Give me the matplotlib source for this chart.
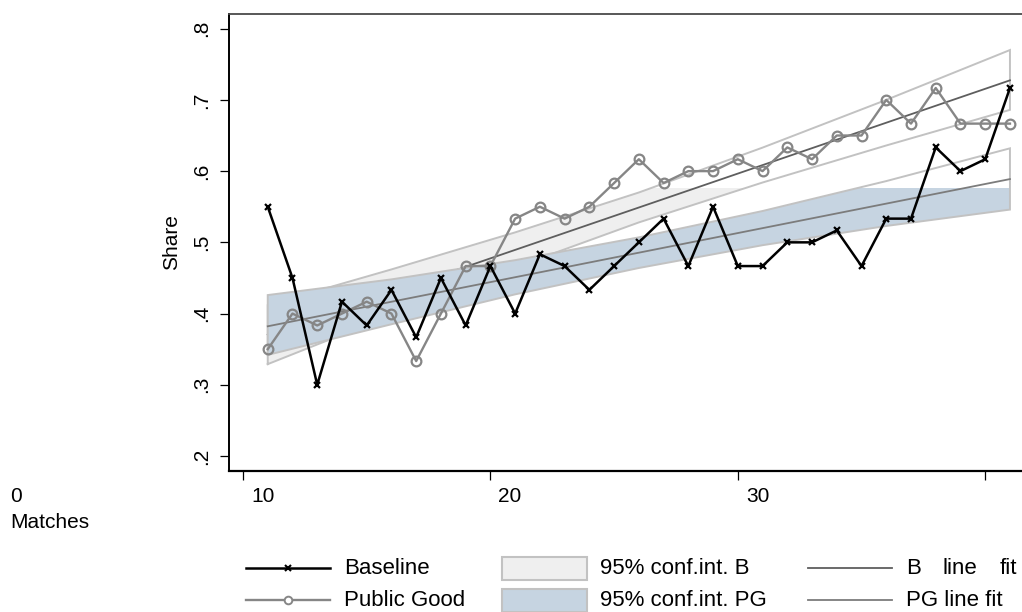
import numpy as np
import matplotlib
matplotlib.use("Agg")
import matplotlib.pyplot as plt
from matplotlib.patches import Rectangle
from matplotlib.lines import Line2D
from matplotlib.transforms import ScaledTranslation

plt.rcParams['font.family'] = ['Liberation Sans', 'DejaVu Sans']

# ---------------- data ----------------
matches = np.arange(11, 42)
baseline = [0.5500, 0.4500, 0.3000, 0.4167, 0.3833, 0.4333, 0.3667, 0.4500, 0.3833, 0.4667,
            0.4000, 0.4833, 0.4667, 0.4333, 0.4667, 0.5000, 0.5333, 0.4667, 0.5500, 0.4667,
            0.4667, 0.5000, 0.5000, 0.5167, 0.4667, 0.5333, 0.5333, 0.6333, 0.6000, 0.6167,
            0.7167]
public_good = [0.3500, 0.4000, 0.3833, 0.4000, 0.4167, 0.4000, 0.3333, 0.4000, 0.4667, 0.4667,
               0.5333, 0.5500, 0.5333, 0.5500, 0.5833, 0.6167, 0.5833, 0.6000, 0.6000, 0.6167,
               0.6000, 0.6333, 0.6167, 0.6500, 0.6500, 0.7000, 0.6667, 0.7167, 0.6667, 0.6667,
               0.6667]

# confidence bands
ci_x = [11, 16, 21, 26, 31, 36, 41]
ci_b_lo = [0.329, 0.398, 0.465, 0.528, 0.584, 0.636, 0.686]
ci_b_hi = [0.412, 0.462, 0.514, 0.570, 0.633, 0.700, 0.770]
ci_pg_lo = [0.342, 0.385, 0.427, 0.464, 0.496, 0.523, 0.546]
ci_pg_hi = [0.426, 0.448, 0.475, 0.507, 0.544, 0.586, 0.632]
fill_cap = 0.577

yticks = [0.2, 0.3, 0.4, 0.5, 0.6, 0.7, 0.8]
ytick_labels = ['.2', '.3', '.4', '.5', '.6', '.7', '.8']
xticks = [10, 20, 30, 40]
xtick_labels = ['10', '20', '30', '']

# ---------------- figure ----------------
W, H = 1022, 612
fig = plt.figure(figsize=(W / 100, H / 100), dpi=100)
ax_l, ax_r, ax_t, ax_b = 228.7, 1022.0, 14.0, 470.7
ax = fig.add_axes([ax_l / W, (H - ax_b) / H, (ax_r - ax_l) / W, (ax_b - ax_t) / H])
ax.set_xlim(9.422, 41.487)
ax.set_ylim(0.1794, 0.8206)

x = np.asarray(matches, float)
b = np.asarray(baseline)
pg = np.asarray(public_good)
cx = np.asarray(ci_x, float)

light_fill = '#efefef'
blue_fill = '#c6d4e1'
edge_col = '#c2c2c2'
fit_b_col = '#5e5e5e'
fit_pg_col = '#7c7c7c'
pg_col = '#868686'

def band(lo, hi, face, z):
    lo = np.asarray(lo); hi = np.asarray(hi)
    poly = ax.fill_between(cx, lo, hi, facecolor=face, edgecolor='none', lw=0, zorder=z)
    clip = Rectangle((0, -1), 100, fill_cap + 1, transform=ax.transData)
    poly.set_clip_path(clip)
    ax.plot(np.r_[cx, cx[::-1], cx[0]], np.r_[lo, hi[::-1], lo[0]],
            color=edge_col, lw=1.4, zorder=z + 0.1, solid_joinstyle='miter')

xfit = np.array([x.min(), x.max()])
# upper band + fit (drawn first)
band(ci_b_lo, ci_b_hi, light_fill, 1)
c_up = np.polyfit(x, pg, 1)
ax.plot(xfit, np.polyval(c_up, xfit), color=fit_b_col, lw=1.3, zorder=1.2)
# lower band + fit
band(ci_pg_lo, ci_pg_hi, blue_fill, 2)
c_lo = np.polyfit(x, b, 1)
ax.plot(xfit, np.polyval(c_lo, xfit), color=fit_pg_col, lw=1.3, zorder=2.2)

# series
ax.plot(x, pg, color=pg_col, lw=1.7, marker='o', ms=7, mfc='none', mec=pg_col, mew=1.6, zorder=3)
ax.plot(x, b, color='black', lw=1.8, marker='x', ms=4.5, mew=1.6, zorder=4)

# axes styling
ax.spines['right'].set_visible(False)
ax.spines['top'].set_color('#4a4a4a')
ax.spines['top'].set_linewidth(1.3)
ax.spines['left'].set_linewidth(1.4)
ax.spines['bottom'].set_linewidth(1.6)

ax.set_yticks(yticks)
ax.set_yticklabels(ytick_labels)
ax.set_xticks(xticks)
ax.set_xticklabels(xtick_labels)
ax.tick_params(axis='y', length=6.5, width=0.9, pad=6, labelsize=15, labelrotation=90)
ax.tick_params(axis='x', length=6.5, width=0.9, pad=5, labelsize=15)
for lab in ax.get_yticklabels():
    lab.set_va('center')
for lab in ax.get_xticklabels():
    lab.set_ha('left')
    lab.set_transform(lab.get_transform() + ScaledTranslation(8 / 100, 0, fig.dpi_scale_trans))

ax.set_ylabel('Share', fontsize=15, labelpad=8)

# overlay for legend and loose texts (pixel coords)
ov = fig.add_axes([0, 0, 1, 1], zorder=10)
ov.set_xlim(0, W)
ov.set_ylim(H, 0)
ov.axis('off')
ov.patch.set_alpha(0)

ov.text(10, 496, '0', fontsize=15, va='center', ha='left')
ov.text(10, 523, 'Matches', fontsize=15, va='center', ha='left')

r1, r2 = 568, 600
fs = 16
# col 1
ov.add_line(Line2D([246, 330], [r1, r1], color='black', lw=1.8))
ov.plot([288], [r1], marker='x', color='black', ms=4, mew=1.5)
ov.add_line(Line2D([246, 330], [r2, r2], color=pg_col, lw=1.7))
ov.plot([288], [r2], marker='o', mfc='white', mec=pg_col, ms=5.5, mew=1.4)
ov.text(344, r1, 'Baseline', fontsize=fs, va='center', ha='left')
ov.text(344, r2, 'Public Good', fontsize=fs, va='center', ha='left')
# col 2
ov.add_patch(Rectangle((502, 556.5), 85, 23.5, facecolor=light_fill, edgecolor=edge_col, lw=1.5))
ov.add_patch(Rectangle((502, 588.5), 85, 23.5, facecolor=blue_fill, edgecolor=edge_col, lw=1.5))
ov.text(600, r1, '95% conf.int. B', fontsize=fs, va='center', ha='left')
ov.text(600, r2, '95% conf.int. PG', fontsize=fs, va='center', ha='left')
# col 3
ov.add_line(Line2D([808, 892], [r1, r1], color=fit_b_col, lw=1.3))
ov.add_line(Line2D([808, 892], [r2, r2], color=fit_pg_col, lw=1.3))
ov.text(906, r1, 'B', fontsize=fs, va='center', ha='left')
ov.text(943, r1, 'line', fontsize=fs, va='center', ha='left')
ov.text(1000, r1, 'fit', fontsize=fs, va='center', ha='left')
ov.text(906, r2, 'PG line fit', fontsize=fs, va='center', ha='left')

fig.savefig('out.png', dpi=100)
